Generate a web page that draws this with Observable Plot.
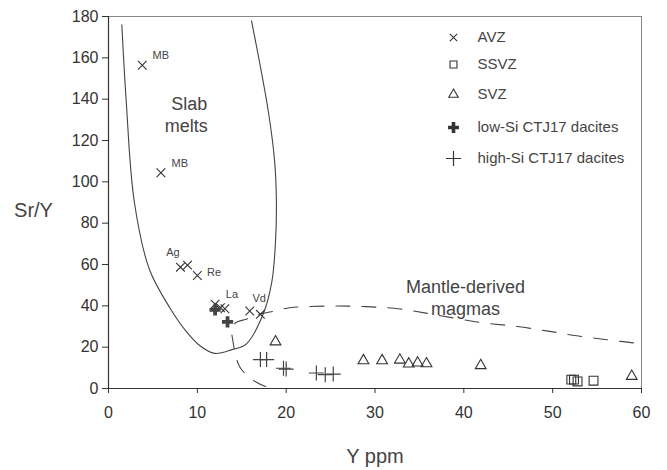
<!DOCTYPE html>
<html>
<head>
<meta charset="utf-8">
<script src="https://cdn.jsdelivr.net/npm/d3@7"></script>
<script src="https://cdn.jsdelivr.net/npm/@observablehq/plot@0.6"></script>
<style>
  html, body { margin: 0; padding: 0; background: #fff; }
  #chart { width: 667px; height: 470px; }
</style>
</head>
<body>
<div id="chart"></div>
<script>
// ---- data ----
const avzX = [3.8, 5.9, 8.1, 8.9, 10.0, 12.0, 12.6, 13.1, 15.9, 17.1];
const avzY = [156.4, 104.4, 58.7, 59.7, 54.7, 40.8, 39.1, 38.6, 37.5, 35.9];

const ssvzX = [52.1, 52.4, 52.8, 54.6];
const ssvzY = [4.3, 4.3, 3.4, 3.8];

const svzX = [18.8, 28.7, 30.8, 32.8, 33.8, 34.8, 35.8, 41.9, 58.9];
const svzY = [22.6, 13.5, 13.5, 13.8, 11.9, 12.4, 12.0, 11.1, 5.9];

const lowSiX = [12.0, 13.4];
const lowSiY = [38.0, 32.2];

const highSiX = [17.1, 17.8, 19.7, 20.0, 23.4, 24.4, 25.3];
const highSiY = [14.0, 14.0, 9.8, 9.4, 7.5, 6.7, 7.0];

// field boundaries
const slabX = [1.5, 2.0, 2.9, 4.6, 6.9, 8.7, 10.3, 11.95, 13.9, 15.5, 17.4, 18.4, 18.8, 18.9, 18.7, 18.0, 16.1];
const slabY = [176, 138.6, 90.5, 57.7, 39.1, 27.9, 20.7, 17.0, 18.8, 21.5, 35.9, 52, 71.2, 90.5, 110, 133.8, 177.9];

const mantleX = [17.7, 16.65, 14.8, 14.0, 13.9, 14.3, 15.5, 17.0, 18.7, 20.4, 22.3, 25.7, 29, 32.8, 37, 42.0, 46.0, 49.3, 52.7, 56.1, 59.9];
const mantleY = [1.0, 3.0, 10.3, 23.1, 28.9, 31.8, 33.5, 35.9, 37.5, 39.1, 39.6, 39.9, 39.6, 38.5, 35.5, 31.9, 30.0, 27.9, 25.5, 23.6, 21.7];

// point labels
const annText = ["MB", "MB", "Ag", "Re", "La", "Vd"];
const annX = [4.95, 7.1, 6.5, 11.1, 13.2, 16.2];
const annY = [161.1, 108.9, 65.7, 56.3, 45.3, 43.7];

// field labels
const fieldText = ["Slab", "melts", "Mantle-derived", "magmas"];
const fieldX = [9.1, 8.75, 40.2, 40.2];
const fieldY = [137.4, 126.8, 49.0, 38.5];

const xTicks = [0, 10, 20, 30, 40, 50, 60];
const yTicks = [0, 20, 40, 60, 80, 100, 120, 140, 160, 180];

const legendLabels = ["AVZ", "SSVZ", "SVZ", "low-Si CTJ17 dacites", "high-Si CTJ17 dacites"];

// ---- build tables ----
const zip = (xs, ys) => xs.map((x, i) => ({x, y: ys[i]}));
const avz = zip(avzX, avzY);
const ssvz = zip(ssvzX, ssvzY);
const svz = zip(svzX, svzY);
const lowSi = zip(lowSiX, lowSiY);
const highSi = zip(highSiX, highSiY);
const slab = zip(slabX, slabY);
const mantle = zip(mantleX, mantleY);
const ann = annText.map((t, i) => ({t, x: annX[i], y: annY[i]}));
const fields = fieldText.map((t, i) => ({t, x: fieldX[i], y: fieldY[i]}));

const ink = "#333";
const font = "Liberation Sans, Arial, Helvetica, sans-serif";

// legend styling (symbol per row)
const legendStyle = [
  {symbol: "times", r: 3.4, strokeWidth: 1.1},
  {symbol: "square", r: 3.9, strokeWidth: 1.1},
  {symbol: "triangle", r: 3.5, strokeWidth: 1.1},
  {symbol: "plus", r: 3.6, strokeWidth: 3.6},
  {symbol: "plus", r: 4.9, strokeWidth: 1.2}
];
const legendDy = [21, 48, 78, 111, 142];

const legendMarks = legendLabels.flatMap((label, i) => [
  Plot.dot([label], {frameAnchor: "top-left", dx: 345, dy: legendDy[i], symbol: legendStyle[i].symbol, r: legendStyle[i].r, stroke: ink, strokeWidth: legendStyle[i].strokeWidth, fill: "none"}),
  Plot.text([label], {frameAnchor: "top-left", dx: 369, dy: legendDy[i], text: d => d, textAnchor: "start", lineAnchor: "middle", fontSize: 15, fill: "#444"})
]);

const chart = Plot.plot({
  width: 667,
  height: 470,
  marginTop: 16,
  marginRight: 26,
  marginBottom: 82,
  marginLeft: 108,
  style: {fontFamily: font, background: "#fff", color: ink},
  x: {domain: [0, 60]},
  y: {domain: [0, 180]},
  marks: [
    Plot.frame({stroke: "#888", strokeWidth: 1}),
    Plot.axisX({ticks: xTicks, tickSize: 5, tickPadding: 13, fontSize: 16, label: null, stroke: ink, fill: ink}),
    Plot.axisY({ticks: yTicks, tickSize: 6, tickPadding: 4, fontSize: 16, label: null, stroke: ink, fill: ink}),
    Plot.ruleX([0], {stroke: ink, strokeWidth: 1.2}),
    Plot.ruleY([0], {stroke: ink, strokeWidth: 1.2}),
    Plot.line(slab, {x: "x", y: "y", curve: "catmull-rom", stroke: "#444", strokeWidth: 1.1}),
    Plot.line(mantle, {x: "x", y: "y", curve: "catmull-rom", stroke: "#444", strokeWidth: 1.1, strokeDasharray: "14,12"}),
    Plot.dot(avz, {x: "x", y: "y", symbol: "times", r: 4, stroke: ink, strokeWidth: 1.1}),
    Plot.dot(ssvz, {x: "x", y: "y", symbol: "square", r: 5, stroke: ink, strokeWidth: 1.1, fill: "none"}),
    Plot.dot(svz, {x: "x", y: "y", symbol: "triangle", r: 4, stroke: ink, strokeWidth: 1.1, fill: "none"}),
    Plot.dot(lowSi, {x: "x", y: "y", symbol: "plus", r: 3.7, stroke: "#444", strokeWidth: 3.8}),
    Plot.dot(highSi, {x: "x", y: "y", symbol: "plus", r: 4.9, stroke: "#444", strokeWidth: 1.2}),
    Plot.text(ann, {x: "x", y: "y", text: "t", textAnchor: "start", fontSize: 11, fill: "#444"}),
    Plot.text(fields, {x: "x", y: "y", text: "t", textAnchor: "middle", fontSize: 18, fill: "#444"}),
    Plot.text(["Sr/Y"], {frameAnchor: "left", dx: -75, dy: 8, text: d => d, textAnchor: "middle", fontSize: 20, fill: "#444"}),
    Plot.text(["Y ppm"], {frameAnchor: "bottom", dy: 68, text: d => d, lineAnchor: "middle", fontSize: 20, fill: "#444"}),
    ...legendMarks
  ]
});

document.getElementById("chart").appendChild(chart);
</script>
</body>
</html>
